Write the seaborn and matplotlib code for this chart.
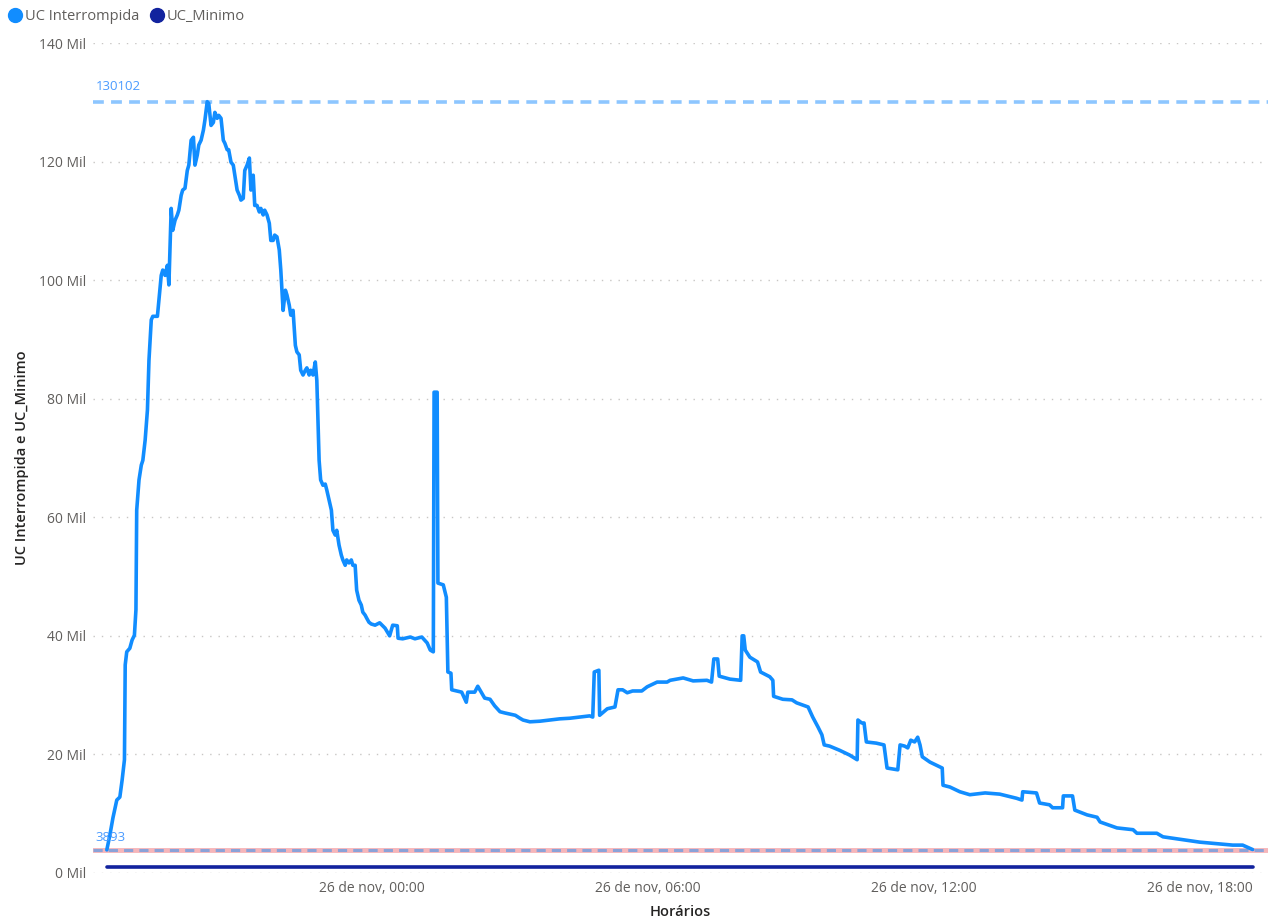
import pandas as pd
import numpy as np
import seaborn as sns
import matplotlib.pyplot as plt
from matplotlib.ticker import FuncFormatter, MultipleLocator
from matplotlib.lines import Line2D

# minutes relative to 26/nov 00:00 and UC Interrompida in thousands
minutos = [
    -346, -342, -338, -333, -329, -326, -323, -322, -320, -316, -313, -310, -308, -307,
    -304, -301, -299, -296, -293, -291, -288, -286, -280, -278, -275, -273, -270, -267,
    -265, -262, -260, -257, -254, -252, -249, -247, -244, -241, -239, -236, -233, -231,
    -228, -226, -223, -220, -218, -215, -213, -210, -207, -205, -202, -200, -197, -194,
    -192, -189, -187, -184, -181, -179, -176, -173, -171, -168, -166, -163, -160, -158,
    -155, -153, -150, -147, -145, -142, -140, -137, -134, -132, -129, -127, -124, -121,
    -119, -116, -113, -111, -108, -106, -103, -100, -98, -95, -93, -90, -87, -85,
    -82, -80, -77, -74, -72, -69, -67, -64, -61, -59, -56, -53, -51, -48,
    -46, -43, -40, -38, -35, -33, -30, -27, -25, -22, -20, -17, -14, -12,
    -9, -7, -4, -1, 4, 10, 17, 23, 27, 33, 34, 40, 50, 56,
    65, 72, 76, 80, 81, 85, 86, 93, 97, 99, 103, 104, 117, 123,
    125, 134, 138, 143, 147, 154, 160, 167, 173, 180, 187, 193, 197, 206,
    219, 232, 245, 258, 271, 284, 288, 290, 296, 297, 307, 317, 321, 327,
    333, 340, 352, 359, 372, 385, 389, 406, 419, 437, 443, 446, 451, 453,
    467, 481, 483, 485, 487, 493, 503, 507, 519, 523, 524, 536, 548, 554,
    569, 575, 582, 587, 590, 597, 610, 623, 633, 634, 639, 642, 645, 658,
    668, 672, 686, 689, 695, 699, 703, 708, 712, 715, 718, 728, 741, 744,
    745, 754, 767, 780, 800, 819, 841, 848, 849, 867, 871, 884, 888, 901,
    902, 914, 917, 933, 946, 950, 972, 993, 998, 1024, 1032, 1080, 1123, 1136,
    1149,
]
uc_interrompida_mil = [
    3.893, 6.4, 9.3, 12.3, 12.8, 15.7, 19.1, 35.1, 37.3, 37.9, 39.3, 40.1, 44.4, 61.2,
    66.3, 68.8, 69.6, 73.0, 78.1, 86.5, 93.3, 93.9, 93.9, 96.6, 100.8, 101.7, 100.8, 102.5,
    99.2, 112.1, 108.4, 110.1, 111.0, 111.8, 114.3, 115.2, 115.5, 118.5, 119.4, 123.6, 124.1, 119.4,
    121.1, 122.8, 123.6, 125.3, 127.0, 130.102, 129.8, 126.1, 126.6, 128.3, 127.3, 127.8, 127.3, 123.6,
    123.1, 122.0, 122.0, 119.9, 119.4, 117.7, 115.2, 114.3, 113.5, 113.8, 118.5, 119.4, 120.6, 115.2,
    117.7, 112.6, 112.6, 111.5, 112.1, 111.0, 111.8, 111.0, 109.6, 106.7, 106.7, 107.6, 107.3, 105.1,
    101.7, 94.9, 98.3, 97.5, 95.8, 94.1, 94.9, 89.0, 87.9, 87.4, 84.8, 84.0, 84.8, 85.2,
    84.0, 84.8, 84.0, 86.2, 83.1, 69.6, 66.3, 65.4, 65.6, 64.6, 62.9, 61.2, 57.8, 57.0,
    57.8, 55.3, 53.6, 52.8, 51.9, 52.8, 52.3, 52.8, 51.9, 51.9, 47.7, 46.0, 45.2, 44.0,
    43.5, 43.0, 42.3, 42.0, 41.8, 42.2, 41.3, 40.0, 41.8, 41.7, 39.6, 39.5, 39.8, 39.5,
    39.8, 38.8, 37.6, 37.3, 81.1, 81.1, 48.9, 48.6, 46.5, 33.9, 33.7, 30.9, 30.5, 28.8,
    30.5, 30.5, 31.5, 30.4, 29.5, 29.3, 28.2, 27.2, 27.0, 26.8, 26.6, 26.1, 25.8, 25.5,
    25.6, 25.8, 26.0, 26.1, 26.3, 26.5, 26.3, 33.9, 34.2, 26.6, 27.7, 28.0, 30.9, 30.9,
    30.4, 30.7, 30.7, 31.4, 32.2, 32.2, 32.5, 32.9, 32.4, 32.5, 32.2, 36.1, 36.1, 33.2,
    32.7, 32.5, 40.0, 40.0, 37.6, 36.4, 35.6, 33.9, 33.1, 32.5, 29.8, 29.3, 29.2, 28.7,
    28.0, 26.3, 24.6, 23.3, 21.6, 21.4, 20.7, 19.9, 19.1, 25.8, 25.3, 25.3, 22.1, 21.9,
    21.6, 17.7, 17.4, 21.6, 21.4, 21.1, 22.4, 22.1, 22.9, 21.6, 19.6, 18.7, 17.9, 17.7,
    14.8, 14.5, 13.7, 13.2, 13.5, 13.3, 12.6, 12.3, 13.7, 13.5, 11.8, 11.5, 11.0, 11.0,
    13.0, 13.0, 10.6, 9.8, 9.4, 8.6, 7.6, 7.3, 6.7, 6.7, 6.1, 5.2, 4.7, 4.7,
    3.95,
]
uc_minimo = 1000

tick_minutos = [0, 360, 720, 1080]
tick_labels = ["26 de nov, 00:00", "26 de nov, 06:00", "26 de nov, 12:00", "26 de nov, 18:00"]

base = pd.Timestamp("2022-11-26")
horarios = base + pd.to_timedelta(minutos, unit="m")
uc = np.array(uc_interrompida_mil) * 1000

df = pd.concat([
    pd.DataFrame({"Horários": horarios, "valor": uc, "serie": "UC Interrompida"}),
    pd.DataFrame({"Horários": horarios, "valor": uc_minimo, "serie": "UC_Minimo"}),
])

sns.set_theme(style="white")
plt.rcParams['font.family'] = ['Open Sans', 'DejaVu Sans']

cores = {"UC Interrompida": "#118DFF", "UC_Minimo": "#12239E"}

fig = plt.figure(figsize=(12.76, 9.23), dpi=100)
ax = fig.add_axes([0.0729, 0.0542, 0.9208, 0.8992])

ax.axhline(uc.min(), color="#F4A3A8", lw=3.5, alpha=0.8, zorder=1)
ax.axhline(uc.min(), color="#8AA2D8", lw=2.2, ls=(0, (3, 2)), zorder=2)
ax.axhline(uc.max(), color="#8DC6FF", lw=2.6, ls=(0, (3, 2)), zorder=2)

sns.lineplot(data=df, x="Horários", y="valor", hue="serie", palette=cores,
             estimator=None, linewidth=2.6, legend=False, ax=ax, zorder=3)

ax.set_ylim(0, 140000)
ax.set_xlim(base + pd.Timedelta(minutes=-364), base + pd.Timedelta(minutes=1169))
ax.yaxis.set_major_locator(MultipleLocator(20000))
ax.yaxis.set_major_formatter(FuncFormatter(lambda v, p: f"{v/1000:.0f} Mil"))
ax.set_xticks(base + pd.to_timedelta(tick_minutos, unit="m"))
ax.set_xticklabels(tick_labels)
ax.tick_params(axis="both", labelsize=10, colors="#605E5C", length=0)
ax.tick_params(axis="x", pad=6)
ax.tick_params(axis="y", pad=5)
ax.grid(axis="y", color="#C8C6C4", ls=(0, (1, 5)), lw=1)
for s in ax.spines.values():
    s.set_visible(False)

ax.set_ylabel("UC Interrompida e UC_Minimo", fontsize=10.5, color="#252423",
              weight="semibold", labelpad=7)
ax.set_xlabel("Horários", fontsize=10.5, color="#252423", weight="semibold", labelpad=6)

trans = ax.get_yaxis_transform()
ax.text(0.002, uc.max() + 1500, f"{int(round(uc.max()))}", transform=trans,
        color="#4A9BFF", fontsize=9.5, va="bottom")
ax.text(0.002, uc.min() + 1000, f"{int(round(uc.min()))}", transform=trans,
        color="#4A9BFF", fontsize=9.5, va="bottom")

handles = [Line2D([], [], marker="o", ls="", color=c, markersize=10) for c in cores.values()]
fig.legend(handles, list(cores.keys()), loc="upper left", bbox_to_anchor=(-0.009, 1.003),
           ncol=2, frameon=False, fontsize=10.5, handletextpad=-0.3, columnspacing=0.2,
           labelcolor="#605E5C", borderpad=0.3)

fig.savefig("out.png", dpi=100)
